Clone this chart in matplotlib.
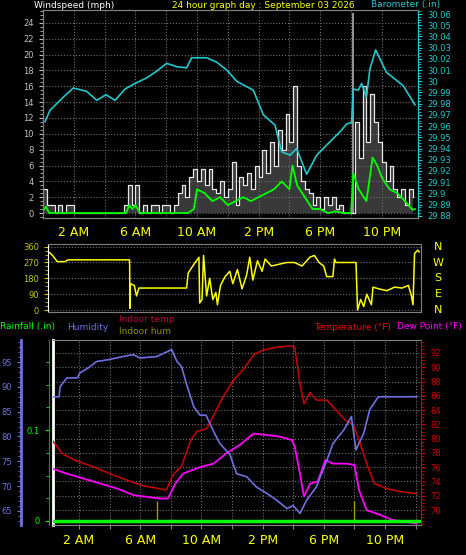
import numpy as np
import matplotlib
matplotlib.use('Agg')
import matplotlib.pyplot as plt
from matplotlib.ticker import MultipleLocator

W, H = 466, 555

# ---- data (hours since midnight) ----
baro_t = [0.13, 0.45, 1.33, 1.97, 2.84, 3.49, 4.09, 4.68, 5.32, 5.97, 6.73, 7.38, 8.03, 8.68, 9.33,
          9.65, 10.19, 10.63, 11.28, 11.93, 12.58, 13.12, 13.66, 14.31, 15.06, 15.5, 16.04, 16.47,
          17.12, 17.77, 18.63, 19.29, 19.72, 20.04, 20.15, 20.47, 20.69, 21.0, 21.23, 21.6, 22.3,
          22.85, 23.39, 24.15]
baro = [29.964, 29.974, 29.986, 29.994, 29.991, 29.983, 29.988, 29.983, 29.993, 29.998, 30.003,
        30.009, 30.016, 30.013, 30.012, 30.021, 30.021, 30.021, 30.017, 30.010, 30.000, 29.996,
        29.992, 29.970, 29.961, 29.937, 29.934, 29.940, 29.917, 29.934, 29.946, 29.955, 29.962,
        29.963, 29.993, 29.992, 29.998, 29.986, 30.011, 30.028, 30.008, 30.002, 29.996, 29.979]

gust_t = np.arange(0, 24.01, 0.25)
gust = [3, 1, 1, 0, 1, 0, 1, 1, 0, 0, 0, 0, 0, 0, 0, 0, 0, 0, 0, 0, 0, 1, 3.5, 1,
        3.5, 0, 1, 0, 1, 1, 0, 1, 1, 0, 1, 2.5, 3.5, 2, 4.5, 5.5, 4, 5.5, 3.5, 5.5, 3, 2.5,
        4, 2, 3, 6.5, 1, 4.5, 3.5, 5, 3, 6, 4.5, 8, 5, 9, 6, 10.5, 8, 12.5, 9, 16, 6, 4,
        3, 2.5, 1, 2, 0.5, 2, 1, 2, 0.5, 1, 0, 0, 0, 11.5, 7, 16, 9, 15, 11.5, 9, 6.5, 4,
        6, 3, 2, 3, 1, 3, 2]
spike_t = [20.1]
spike = [25.3]

avg_t = [0, 0.2, 0.4, 5.4, 5.6, 5.8, 6.0, 6.3, 9.4, 9.8, 10.0, 10.5, 11.0, 11.5, 12.0, 12.5, 13.0,
         13.5, 14.0, 14.5, 15.0, 15.5, 16.0, 16.2, 16.5, 17.0, 17.5, 18.0, 18.5, 19.0, 19.5, 20.0,
         20.15, 20.5, 21.0, 21.4, 21.7, 22.0, 22.5, 23.0, 23.5, 24.0, 24.15]
avg = [0.3, 0.8, 0, 0, 1, 0.5, 1, 0, 0, 0.5, 3, 2.5, 1.5, 2, 1, 1.5, 2, 1.5, 2, 2.5, 3, 4, 3,
       6, 3.5, 2, 0.5, 0.5, 0, 0.2, 0, 0, 5, 3, 1.5, 7, 6, 4.5, 3, 2.5, 1.5, 0.4, 0.5]

dir_t = [0.05, 0.3, 0.6, 1.1, 1.3, 5.3, 5.32, 5.35, 5.6, 5.75, 5.9, 9.0, 9.1, 9.4, 9.6, 9.8, 9.85,
         10.0, 10.1, 10.3, 10.5, 10.7, 10.9, 11.0, 11.2, 11.5, 11.8, 12.0, 12.3, 12.6, 12.9, 13.1,
         13.3, 13.6, 13.9, 14.1, 14.5, 15.0, 15.5, 16.0, 16.5, 17.0, 17.3, 17.6, 17.9, 18.1, 18.5,
         18.6, 18.7, 20.0, 20.1, 20.3, 20.5, 20.7, 21.0, 21.1, 21.5, 22.0, 22.5, 23.0, 23.4, 23.6,
         23.7, 23.8, 24.0, 24.1]
wdir = [330, 310, 275, 275, 285, 285, 10, 150, 140, 80, 125, 125, 210, 250, 275, 300, 40, 60,
        310, 80, 180, 60, 100, 30, 140, 190, 220, 150, 230, 120, 200, 300, 170, 280, 220, 290,
        250, 260, 270, 270, 250, 300, 310, 270, 250, 190, 190, 290, 270, 270, 0, 60, 20, 90, 30,
        130, 120, 110, 130, 125, 140, 80, 30, 320, 340, 330]

hum_t = [0.25, 0.7, 0.76, 1.2, 1.9, 2.06, 2.6, 3.15, 4.0, 4.7, 5.55, 5.98, 7.07, 8.06, 8.4, 8.7,
         9.0, 9.5, 9.9, 10.3, 10.8, 11.2, 11.87, 12.3, 12.96, 13.6, 14.3, 14.9, 15.6, 16.0, 16.44,
         16.88, 17.5, 18.2, 18.6, 19.3, 19.8, 20.1, 20.6, 21.0, 21.56, 24.07]
hum = [88, 88, 90, 91.8, 91.8, 92.8, 93.8, 95.1, 95.5, 96, 96.5, 95.8, 96.1, 97.5, 95.1, 94.1,
       90.8, 86, 84.3, 84.3, 81, 78.6, 76.3, 72.5, 71.9, 69.8, 68.5, 67.2, 65.5, 66.1, 64.5, 67.2,
       69.8, 75.2, 78.6, 81.3, 84, 77.3, 80.6, 85.4, 88, 88]

temp_t = [0.25, 0.9, 1.7, 2.9, 4.0, 5.1, 6.2, 7.7, 8.2, 8.7, 9.3, 9.7, 10.35, 10.8, 11.4, 12.1,
          12.7, 13.4, 14.0, 14.9, 15.8, 16.1, 16.44, 16.7, 17.1, 17.5, 18.2, 18.8, 19.5, 19.9,
          20.3, 20.8, 21.3, 22.1, 22.97, 24.07]
temp = [79.8, 77.9, 77, 76.1, 75.1, 74.2, 73.4, 72.8, 75.1, 76.1, 79.8, 81, 81.4, 83.3, 85.8,
        88.2, 89.6, 91.7, 92.4, 92.8, 93, 92.8, 87.7, 84.9, 86.5, 85.4, 85.4, 84, 82.4, 82.1,
        79.8, 76.5, 73.7, 73, 72.6, 72.3]

dew_t = [0.25, 1.2, 2.3, 3.4, 4.5, 5.55, 6.6, 7.3, 7.8, 8.3, 8.8, 9.9, 10.8, 11.6, 12.5, 13.4,
         14.3, 15.1, 15.9, 16.1, 16.44, 16.7, 17.1, 17.6, 18.1, 18.6, 19.5, 20.0, 20.3, 20.8,
         21.7, 22.5, 24.07]
dew = [75.8, 75.1, 74.4, 73.7, 73, 72.1, 71.8, 71.6, 71.6, 73.7, 75.1, 76, 76.5, 77.9, 79.1,
       80.7, 80.5, 80.3, 79.8, 78.9, 75.1, 71.9, 73.7, 74, 77, 76.5, 76.5, 76.3, 72.8, 70, 69.3,
       68.6, 68.1]

rain_t = [0.3, 24.3]
rain = [0, 0]
indoor_hum_marks = [7.07, 19.97]

time_ticks = [2, 6, 10, 14, 18, 22]
time_labels = ['2 AM', '6 AM', '10 AM', '2 PM', '6 PM', '10 PM']

fig = plt.figure(figsize=(W / 100, H / 100), dpi=100, facecolor='black')


def add_ax(l, t, r, b):
    return fig.add_axes([l / W, 1 - b / H, (r - l) / W, (b - t) / H])


def style(ax, col='#c0c0c0'):
    ax.set_facecolor('black')
    for s in ax.spines.values():
        s.set_color('#808080')
    ax.tick_params(colors=col, labelsize=6, length=3, width=0.8)
    ax.tick_params(which='minor', length=2, colors=col)
    ax.grid(True, color='#707070', linestyle=':', linewidth=0.8)


GUST = '#e8e8e8'
GREEN = '#00ff00'
BARO = '#20c8d0'
YEL = '#ffff00'

# ---- top panel ----
ax1 = add_ax(43, 10, 418, 218)
style(ax1)
ax1.set_xlim(0, 24.35)
ax1.set_ylim(-0.63, 25.64)
ax1.set_yticks(range(0, 25, 2))
ax1.yaxis.set_minor_locator(MultipleLocator(0.5))
ax1.set_xticks(range(2, 24, 2))
ax1.tick_params(axis='x', labelbottom=False, length=0)
ax1.fill_between(gust_t, 0, gust, step='post', color='#808080', alpha=0.45, lw=0)
ax1.step(gust_t, gust, where='post', color=GUST, lw=0.9)
ax1.vlines(spike_t, 0, spike, color='#b0b0b0', lw=1.2)
ax1.plot(avg_t, avg, color=GREEN, lw=1.3, zorder=4)
ax1b = ax1.twinx()
ax1b.set_ylim(29.878, 30.0636)
ax1b.plot(baro_t, baro, color=BARO, lw=1.2)
ax1b.set_yticks(np.arange(29.88, 30.061, 0.01))
ax1b.set_yticklabels(['%g' % round(v, 2) for v in np.arange(29.88, 30.061, 0.01)])
ax1b.yaxis.set_minor_locator(MultipleLocator(0.0025))
ax1b.tick_params(colors=BARO, labelsize=6, length=3)
ax1b.tick_params(which='minor', colors=BARO, length=2)
for s in ax1b.spines.values():
    s.set_color('#808080')
ax1b.spines['right'].set_color(BARO)

for t, lab in zip(time_ticks, time_labels):
    fig.text((43 + 15.4 * t) / W, 1 - 232 / H, lab, color=YEL, fontsize=9,
             ha='center', va='center')
fig.text(34 / W, 1 - 5 / H, 'Windspeed (mph)', color='white', fontsize=6.5, va='center')
fig.text(172 / W, 1 - 5 / H, '24 hour graph day : September 03 2026', color=YEL,
         fontsize=6.5, va='center')
fig.text(371 / W, 1 - 5 / H, 'Barometer (.in)', color=BARO, fontsize=6.5, va='center')

# ---- middle panel: wind direction ----
ax2 = add_ax(48, 244, 421, 312)
style(ax2, '#c8c800')
ax2.set_xlim(0, 24.22)
ax2.set_ylim(-11, 375)
ax2.set_yticks([0, 90, 180, 270, 360])
ax2.yaxis.set_minor_locator(MultipleLocator(22.5))
ax2.grid(axis='x', visible=False)
ax2.tick_params(axis='x', labelbottom=False, length=0)
ax2.spines['left'].set_color('white')
ax2.plot(dir_t, wdir, color=YEL, lw=1.1)
for lab, d in zip(['N', 'W', 'S', 'E', 'N'], [360, 270, 180, 90, 0]):
    y = 310 - d * 63.3 / 360
    fig.text(438 / W, 1 - y / H, lab, color=YEL, fontsize=8, ha='center', va='center')

# ---- bottom panel ----
ax3 = add_ax(53, 340, 421, 525)
style(ax3, '#cc0000')
ax3.set_xlim(0.3, 24.35)
ax3.set_ylim(67.9, 93.82)
ax3.yaxis.tick_right()
ax3.set_yticks(range(70, 93, 2))
ax3.yaxis.set_minor_locator(MultipleLocator(0.5))
ax3.set_xticks(range(2, 25, 2))
ax3.tick_params(axis='x', labelbottom=False, length=3, colors='#808080')
ax3.spines['left'].set_color('white')
ax3.spines['left'].set_linewidth(2)
ax3.spines['right'].set_color('#cc0000')
ax3.plot(temp_t, temp, color='#cc0000', lw=1.1, zorder=3)
ax3.plot(dew_t, dew, color='#ff00ff', lw=1.3, zorder=3)
ax3.vlines(indoor_hum_marks, 68.5, 71.3, color='#a0a000', lw=1)

ax3h = fig.add_axes(ax3.get_position())
ax3h.patch.set_visible(False)
ax3h.set_xlim(ax3.get_xlim())
ax3h.set_ylim(62.18, 99.43)
ax3h.set_xticks([])
for k in ['top', 'right', 'bottom']:
    ax3h.spines[k].set_visible(False)
ax3h.spines['left'].set_position(('outward', 23))
ax3h.spines['left'].set_color('#7070e0')
ax3h.spines['left'].set_linewidth(2)
ax3h.set_yticks(range(65, 96, 5))
ax3h.yaxis.set_minor_locator(MultipleLocator(1))
ax3h.tick_params(colors='#7070e0', labelsize=6, length=3)
ax3h.tick_params(which='minor', colors='#7070e0', length=2)
ax3h.plot(hum_t, hum, color='#7070e0', lw=1.2)

ax3r = fig.add_axes(ax3.get_position())
ax3r.patch.set_visible(False)
ax3r.set_xlim(ax3.get_xlim())
ax3r.set_ylim(-0.0044, 0.199)
ax3r.set_xticks([])
for k in ['top', 'right', 'bottom']:
    ax3r.spines[k].set_visible(False)
ax3r.spines['left'].set_position(('outward', 3))
ax3r.spines['left'].set_color('#00a000')
ax3r.set_yticks([0, 0.1])
ax3r.set_yticklabels(['0', '0.1'])
ax3r.yaxis.set_minor_locator(MultipleLocator(0.025))
ax3r.tick_params(colors=GREEN, labelsize=6, length=3)
ax3r.tick_params(which='minor', colors=GREEN, length=2)
ax3r.plot(rain_t, rain, color=GREEN, lw=2.5)

for t, lab in zip(time_ticks, time_labels):
    fig.text((48.4 + 15.3 * t) / W, 1 - 540 / H, lab, color=YEL, fontsize=9,
             ha='center', va='center')
fig.text(0, 1 - 327 / H, 'Rainfall (.in)', color=GREEN, fontsize=6.5, va='center')
fig.text(67 / W, 1 - 327 / H, 'Humidity', color='#7070e0', fontsize=6.5, va='center')
fig.text(119 / W, 1 - 320 / H, 'Indoor temp', color='#c00040', fontsize=6.5, va='center')
fig.text(119 / W, 1 - 332 / H, 'Indoor hum', color='#909000', fontsize=6.5, va='center')
fig.text(391 / W, 1 - 327 / H, 'Temperature (°F)', color='#ee0000', fontsize=6.5,
         va='center', ha='right')
fig.text(462 / W, 1 - 327 / H, 'Dew Point (°F)', color='#ff00ff', fontsize=6.5,
         va='center', ha='right')

fig.savefig('out.png', dpi=100, facecolor='black')
